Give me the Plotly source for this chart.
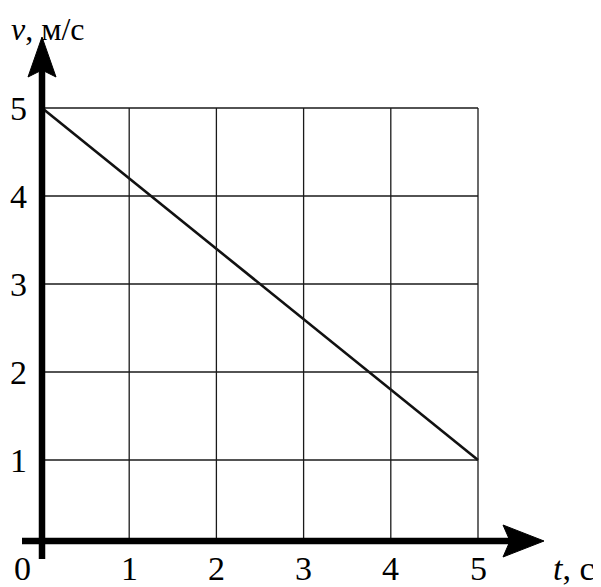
import plotly.graph_objects as go

# Data
t_values = [0, 5]
v_values = [5, 1]
x_ticks = [1, 2, 3, 4, 5]
y_ticks = [1, 2, 3, 4, 5]
x_tick_labels = ["1", "2", "3", "4", "5"]
y_tick_labels = ["1", "2", "3", "4", "5"]

W, H = 601, 587
OFF = 8  # default page body margin
Wf, Hf = W - OFF, H - OFF

# pixel geometry of the reference (page pixels)
x0_px, px_per_x = 42.0, 87.2
y0_px, px_per_y = 548.0, 88.0

def dx(px):
    return (px - x0_px) / px_per_x

def dy(py):
    return (y0_px - py) / px_per_y

x_range = [dx(OFF), dx(OFF + Wf)]
y_range = [dy(OFF + Hf), dy(OFF)]

FONT = "Liberation Serif, Times New Roman, serif"
FS = 34

fig = go.Figure()

shapes = []
ax_y = dy(541)
# grid
for xv in x_ticks:
    shapes.append(dict(type="line", xref="x", yref="y", x0=xv, x1=xv, y0=ax_y, y1=max(y_ticks),
                       line=dict(color="#1a1a1a", width=1.3)))
for yv in y_ticks:
    shapes.append(dict(type="line", xref="x", yref="y", x0=0, x1=max(x_ticks), y0=yv, y1=yv,
                       line=dict(color="#1a1a1a", width=1.3)))

# axes (thick)
shapes.append(dict(type="line", xref="x", yref="y", x0=dx(22), x1=dx(512), y0=ax_y, y1=ax_y,
                   line=dict(color="black", width=6.5)))
shapes.append(dict(type="line", xref="x", yref="y", x0=0, x1=0, y0=dy(559), y1=dy(66),
                   line=dict(color="black", width=6.5)))

# arrow heads
hw = 14 / px_per_x
path_y = (f"M {dx(42)},{dy(37)} L {dx(42) + hw},{dy(77)} L {dx(42)},{dy(70)} "
          f"L {dx(42) - hw},{dy(77)} Z")
shapes.append(dict(type="path", xref="x", yref="y", path=path_y,
                   fillcolor="black", line=dict(color="black", width=1)))
hh = 16 / px_per_y
path_x = (f"M {dx(544)},{ax_y} L {dx(503)},{ax_y + hh} L {dx(510)},{ax_y} "
          f"L {dx(503)},{ax_y - hh} Z")
shapes.append(dict(type="path", xref="x", yref="y", path=path_x,
                   fillcolor="black", line=dict(color="black", width=1)))

# the data line
fig.add_trace(go.Scatter(x=t_values, y=v_values, mode="lines",
                         line=dict(color="#111111", width=2.6), hoverinfo="skip"))

tfont = dict(family=FONT, size=FS, color="black")
annotations = []
for xv, lab in zip(x_ticks, x_tick_labels):
    annotations.append(dict(x=xv, y=dy(568), xref="x", yref="y", text=lab, showarrow=False,
                            font=tfont, xanchor="center", yanchor="middle"))
for yv, lab in zip(y_ticks, y_tick_labels):
    annotations.append(dict(x=dx(29), y=yv, xref="x", yref="y", text=lab, showarrow=False,
                            font=tfont, xanchor="right", yanchor="middle"))
annotations.append(dict(x=dx(22), y=dy(568), xref="x", yref="y", text="0", showarrow=False,
                        font=tfont, xanchor="center", yanchor="middle"))
annotations.append(dict(x=dx(9), y=dy(9), xref="x", yref="y", text="<i>v</i>, м/с", showarrow=False,
                        font=dict(family=FONT, size=32, color="black"),
                        xanchor="left", yanchor="top"))
annotations.append(dict(x=dx(597), y=dy(568), xref="x", yref="y", text="<i>t</i>, с", showarrow=False,
                        font=tfont, xanchor="right", yanchor="middle"))

fig.update_layout(
    width=Wf, height=Hf,
    margin=dict(l=0, r=0, t=0, b=0),
    paper_bgcolor="white", plot_bgcolor="white",
    showlegend=False,
    xaxis=dict(range=x_range, visible=False, fixedrange=True),
    yaxis=dict(range=y_range, visible=False, fixedrange=True),
    shapes=shapes,
    annotations=annotations,
)

fig.write_html("out.html")
